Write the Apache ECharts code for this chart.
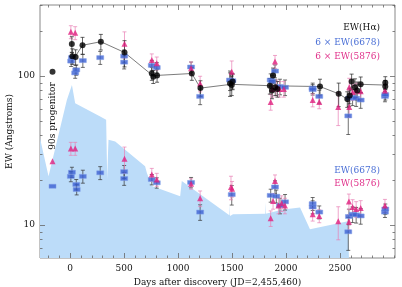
<!DOCTYPE html>
<html><head><meta charset="utf-8">
<script src="https://cdn.jsdelivr.net/npm/echarts@6/dist/echarts.min.js"></script>
<style>html,body{margin:0;padding:0;background:#fff}#c{width:402px;height:287px}</style>
</head><body><div id="c"></div>
<script>
// ---- data ----
var xTickMajor = [0, 500, 1000, 1500, 2000, 2500];
var xTickMinor = [-200,-100,100,200,300,400,600,700,800,900,1100,1200,1300,1400,1600,1700,1800,1900,2100,2200,2300,2400,2600,2700,2800,2900,3000];
var yTickMajor = [10, 100];
var yTickMinor = [7, 8, 9, 20, 30, 40, 50, 60, 70, 80, 90, 200, 300];

// light-blue shaded curve
var fillDays = [-280, -201, -31, 16, 46, 278, 333, 343, 350, 355, 417, 694, 710, 756, 760, 762, 1019, 1034, 1475, 1478, 1481, 1509, 1806, 1808, 1812, 1972, 2130, 2222, 2574, 2583];
var fillVals = [38.4, 21.2, 69.1, 87.1, 65.7, 53.5, 50.8, 20.2, 30.0, 37.4, 36.4, 24.8, 22.4, 18.2, 24.0, 18.2, 15.6, 19.7, 11.6, 13.9, 11.5, 11.8, 11.9, 14.2, 11.9, 12.7, 13.1, 9.36, 10.6, 10.6];

// progenitor (day -164)
var progDay = [-164];
var progHa = [107];
var prog5876 = [26.8];
var prog6678 = [18.2];

// EW(Halpha)
var haDays = [15, 20, 50, 114, 284, 503, 756, 770, 805, 1127, 1207, 1481, 1497, 1505, 1850, 1870, 1880, 1900, 1920, 2315, 2488, 2568, 2590, 2608, 2639, 2660, 2692, 2920, 2920];
var haVals = [164, 136, 134, 161, 170, 144, 104, 99, 101, 104, 83, 89, 87, 92, 86, 80, 101, 84, 82, 85, 76, 70, 74, 92, 84, 80, 88, 90, 85];
var haErr  = [0.12, 0.12, 0.12, 0.13, 0.12, 0.2, 0.1, 0.1, 0.1, 0.1, 0.12, 0.18, 0.15, 0.12, 0.12, 0.12, 0.12, 0.12, 0.12, 0.12, 0.18, 0.12, 0.12, 0.12, 0.14, 0.14, 0.12, 0.1, 0.1];
var haLineDays = [46, 114, 284, 503, 770, 805, 1127, 1207, 1490, 1880, 2315, 2488, 2568, 2608, 2692, 2920];
var haLineVals = [135, 161, 170, 144, 100, 101, 104, 83, 88, 86, 85, 76, 70, 86, 88, 87];

// 6 x EW(6678)
var b6Days = [9, 16, 46, 56, 117, 278, 500, 500, 756, 802, 1120, 1204, 1481, 1503, 1858, 1870, 1898, 1944, 1991, 2247, 2247, 2308, 2577, 2586, 2617, 2650, 2692, 2917, 2920];
var b6Vals = [126, 133, 105, 110, 127, 133, 124, 136, 118, 114, 115, 73, 94, 93, 94, 92, 108, 85, 84, 83, 81, 73, 54, 71, 72, 71, 69, 73, 75];
var b6Err  = [0.08, 0.08, 0.08, 0.08, 0.1, 0.1, 0.1, 0.1, 0.08, 0.08, 0.08, 0.12, 0.15, 0.12, 0.1, 0.1, 0.1, 0.12, 0.12, 0.08, 0.08, 0.1, 0.25, 0.12, 0.12, 0.12, 0.12, 0.08, 0.08];

// 6 x EW(5876)
var p6Days = [6, 46, 503, 756, 802, 1120, 1204, 1497, 1858, 1875, 1898, 1910, 1940, 1980, 2247, 2308, 2484, 2586, 2586, 2617, 2650, 2692, 2917];
var p6Vals = [198, 195, 165, 128, 122, 113, 89, 107, 67, 82, 125, 84, 82, 82, 69, 67, 62, 62, 84, 78, 80, 79, 80];
var p6Err  = [0.1, 0.1, 0.2, 0.1, 0.1, 0.1, 0.12, 0.18, 0.12, 0.12, 0.1, 0.12, 0.12, 0.12, 0.1, 0.1, 0.25, 0.15, 0.15, 0.12, 0.12, 0.12, 0.1];

// EW(6678)
var bDays = [6, 16, 56, 60, 117, 278, 500, 500, 756, 802, 1120, 1204, 1497, 1858, 1898, 1910, 1944, 1991, 2247, 2247, 2308, 2577, 2583, 2617, 2650, 2692, 2917, 2920];
var bVals = [21.2, 22.6, 18.7, 17.3, 21.2, 22.4, 22.8, 20.5, 20.2, 19.2, 19.3, 12.2, 16.0, 15.8, 18.0, 15.6, 13.5, 14.3, 13.9, 13.2, 12.2, 9.0, 11.4, 11.8, 11.7, 11.5, 12.2, 12.8];
var bErr  = [0.08, 0.08, 0.08, 0.08, 0.1, 0.1, 0.1, 0.1, 0.08, 0.08, 0.08, 0.12, 0.15, 0.1, 0.1, 0.1, 0.12, 0.12, 0.1, 0.1, 0.1, 0.25, 0.12, 0.12, 0.12, 0.12, 0.08, 0.08];

// EW(5876)
var pDays = [6, 46, 503, 756, 802, 1120, 1204, 1490, 1500, 1858, 1880, 1898, 1930, 1960, 1990, 2247, 2308, 2484, 2583, 2583, 2617, 2650, 2692, 2917];
var pVals = [32.6, 32.6, 27.8, 21.8, 20.2, 18.9, 15.1, 18.0, 17.5, 11.1, 14.5, 19.7, 13.5, 14.0, 13.5, 11.8, 11.5, 10.6, 14.4, 10.5, 13.2, 12.8, 13.0, 13.5];
var pErr  = [0.1, 0.1, 0.2, 0.1, 0.1, 0.08, 0.12, 0.18, 0.12, 0.12, 0.12, 0.1, 0.12, 0.12, 0.12, 0.1, 0.1, 0.25, 0.12, 0.12, 0.12, 0.12, 0.12, 0.1];

// ---- build ----
function pts(d, v) { return d.map(function (x, i) { return [x, v[i]]; }); }
function errs(d, v, e) { return d.map(function (x, i) { return [x, v[i] * (1 - e[i]), v[i] * (1 + e[i])]; }); }
var FONT = 'DejaVu Serif';
var BLUE = '#3a5fd2', PINK = '#e0207f', PINKBAR = '#e87fb5';

function errSeries(data, color, lw) {
  return {
    type: 'custom', data: data, z: 3, encode: { x: 0, y: [1, 2] }, silent: true,
    renderItem: function (params, api) {
      var a = api.coord([api.value(0), api.value(1)]);
      var b = api.coord([api.value(0), api.value(2)]);
      var w = 2, st = { stroke: color, lineWidth: lw };
      return { type: 'group', children: [
        { type: 'line', shape: { x1: a[0], y1: a[1], x2: b[0], y2: b[1] }, style: st },
        { type: 'line', shape: { x1: a[0] - w, y1: a[1], x2: a[0] + w, y2: a[1] }, style: st },
        { type: 'line', shape: { x1: b[0] - w, y1: b[1], x2: b[0] + w, y2: b[1] }, style: st }
      ] };
    }
  };
}

function plain(v) { return String(v); }
function xAx(pos, vals, len, labels) {
  return {
    type: 'value', position: pos, min: -280, max: 3010,
    axisLine: { show: false, onZero: false }, splitLine: { show: false },
    axisTick: { show: true, inside: true, length: len, customValues: vals, lineStyle: { color: '#666', width: 0.8 } },
    axisLabel: { show: labels, customValues: vals, formatter: plain, color: '#111', fontFamily: FONT, fontSize: 9, margin: 6 },
    name: labels ? 'Days after discovery (JD=2,455,460)' : '', nameLocation: 'middle', nameGap: 20, nameMoveOverlap: false,
    nameTextStyle: { color: '#111', fontFamily: FONT, fontSize: 9 }
  };
}
function yAx(pos, vals, len, labels) {
  return {
    type: 'log', logBase: 10, position: pos, min: 6, max: 300,
    axisLine: { show: false, onZero: false }, splitLine: { show: false },
    axisTick: { show: true, inside: true, length: len, customValues: vals, lineStyle: { color: '#666', width: 0.8 } },
    axisLabel: { show: labels, customValues: vals, formatter: plain, color: '#111', fontFamily: FONT, fontSize: 9, margin: 5 },
    name: labels ? 'EW (Angstroms)' : '', nameLocation: 'middle', nameGap: 26, nameRotate: 90, nameMoveOverlap: false,
    nameTextStyle: { color: '#111', fontFamily: FONT, fontSize: 9 }
  };
}

var series = [
  { type: 'line', data: pts(fillDays, fillVals), showSymbol: false, symbol: 'none', z: 0, silent: true,
    lineStyle: { width: 0 }, areaStyle: { color: '#bcdcf9', opacity: 1, origin: 'start' } },
  { type: 'line', data: pts(haLineDays, haLineVals), showSymbol: false, symbol: 'none', z: 2,
    lineStyle: { color: '#444', width: 0.7 } },
  errSeries(errs(b6Days, b6Vals, b6Err), '#333', 0.7),
  errSeries(errs(bDays, bVals, bErr), '#333', 0.7),
  errSeries(errs(p6Days, p6Vals, p6Err), PINKBAR, 0.7),
  errSeries(errs(pDays, pVals, pErr), PINKBAR, 0.7),
  errSeries(errs(haDays, haVals, haErr), '#222', 0.7),
  { type: 'scatter', data: pts(b6Days, b6Vals), symbol: 'rect', symbolSize: [7, 4], z: 4,
    itemStyle: { color: BLUE, borderColor: '#7f9be6', borderWidth: 0.6 } },
  { type: 'scatter', data: pts(bDays, bVals).concat(pts(progDay, prog6678)), symbol: 'rect', symbolSize: [7, 4], z: 4,
    itemStyle: { color: BLUE, borderColor: '#7f9be6', borderWidth: 0.6 } },
  { type: 'scatter', data: pts(p6Days, p6Vals), symbol: 'triangle', symbolSize: 6, z: 5, itemStyle: { color: PINK } },
  { type: 'scatter', data: pts(pDays, pVals).concat(pts(progDay, prog5876)), symbol: 'triangle', symbolSize: 6, z: 5, itemStyle: { color: PINK } },
  { type: 'scatter', data: pts(haDays, haVals).concat(pts(progDay, progHa)), symbol: 'circle', symbolSize: 6, z: 6, itemStyle: { color: '#000' } }
];

var chart = echarts.init(document.getElementById('c'), null, { renderer: 'canvas' });
chart.setOption({
  animation: false,
  grid: { left: 40, right: 7, top: 5, bottom: 29, outerBoundsMode: 'none', containLabel: false,
    show: true, borderColor: '#888', borderWidth: 1, backgroundColor: 'transparent' },
  xAxis: [xAx('bottom', xTickMajor, 5, true), xAx('bottom', xTickMinor, 2.5, false), xAx('top', xTickMajor, 5, false), xAx('top', xTickMinor, 2.5, false)],
  yAxis: [yAx('left', yTickMajor, 5, true), yAx('left', yTickMinor, 2.5, false), yAx('right', yTickMajor, 5, false), yAx('right', yTickMinor, 2.5, false)],
  series: series,
  graphic: [
    { type: 'text', right: 22, top: 23, style: { text: 'EW(H\u03b1)', fill: '#111', font: '9px "DejaVu Serif"' } },
    { type: 'text', right: 22, top: 38, style: { text: '6 \u00d7 EW(6678)', fill: '#4a6fd6', font: '9px "DejaVu Serif"' } },
    { type: 'text', right: 22, top: 52, style: { text: '6 \u00d7 EW(5876)', fill: '#e0308a', font: '9px "DejaVu Serif"' } },
    { type: 'text', right: 22, top: 166, style: { text: 'EW(6678)', fill: '#4a6fd6', font: '9px "DejaVu Serif"' } },
    { type: 'text', right: 22, top: 179, style: { text: 'EW(5876)', fill: '#e0308a', font: '9px "DejaVu Serif"' } },
    { type: 'text', x: 52.5, y: 116, rotation: Math.PI / 2, z: 10, style: { text: '90s progenitor', fill: '#111', font: '9px "DejaVu Serif"', align: 'center', verticalAlign: 'middle' } },
    { type: 'text', x: 95, y: 201, style: { text: '\u2014  6678  \u2014', fill: '#4a6fd6', font: '8px "DejaVu Serif"', align: 'center', verticalAlign: 'middle' } },
    { type: 'text', x: 95, y: 217, style: { text: 'P Cyg', fill: '#4a6fd6', font: '9px "DejaVu Serif"', align: 'center', verticalAlign: 'middle' } }
  ]
});
</script></body></html>
